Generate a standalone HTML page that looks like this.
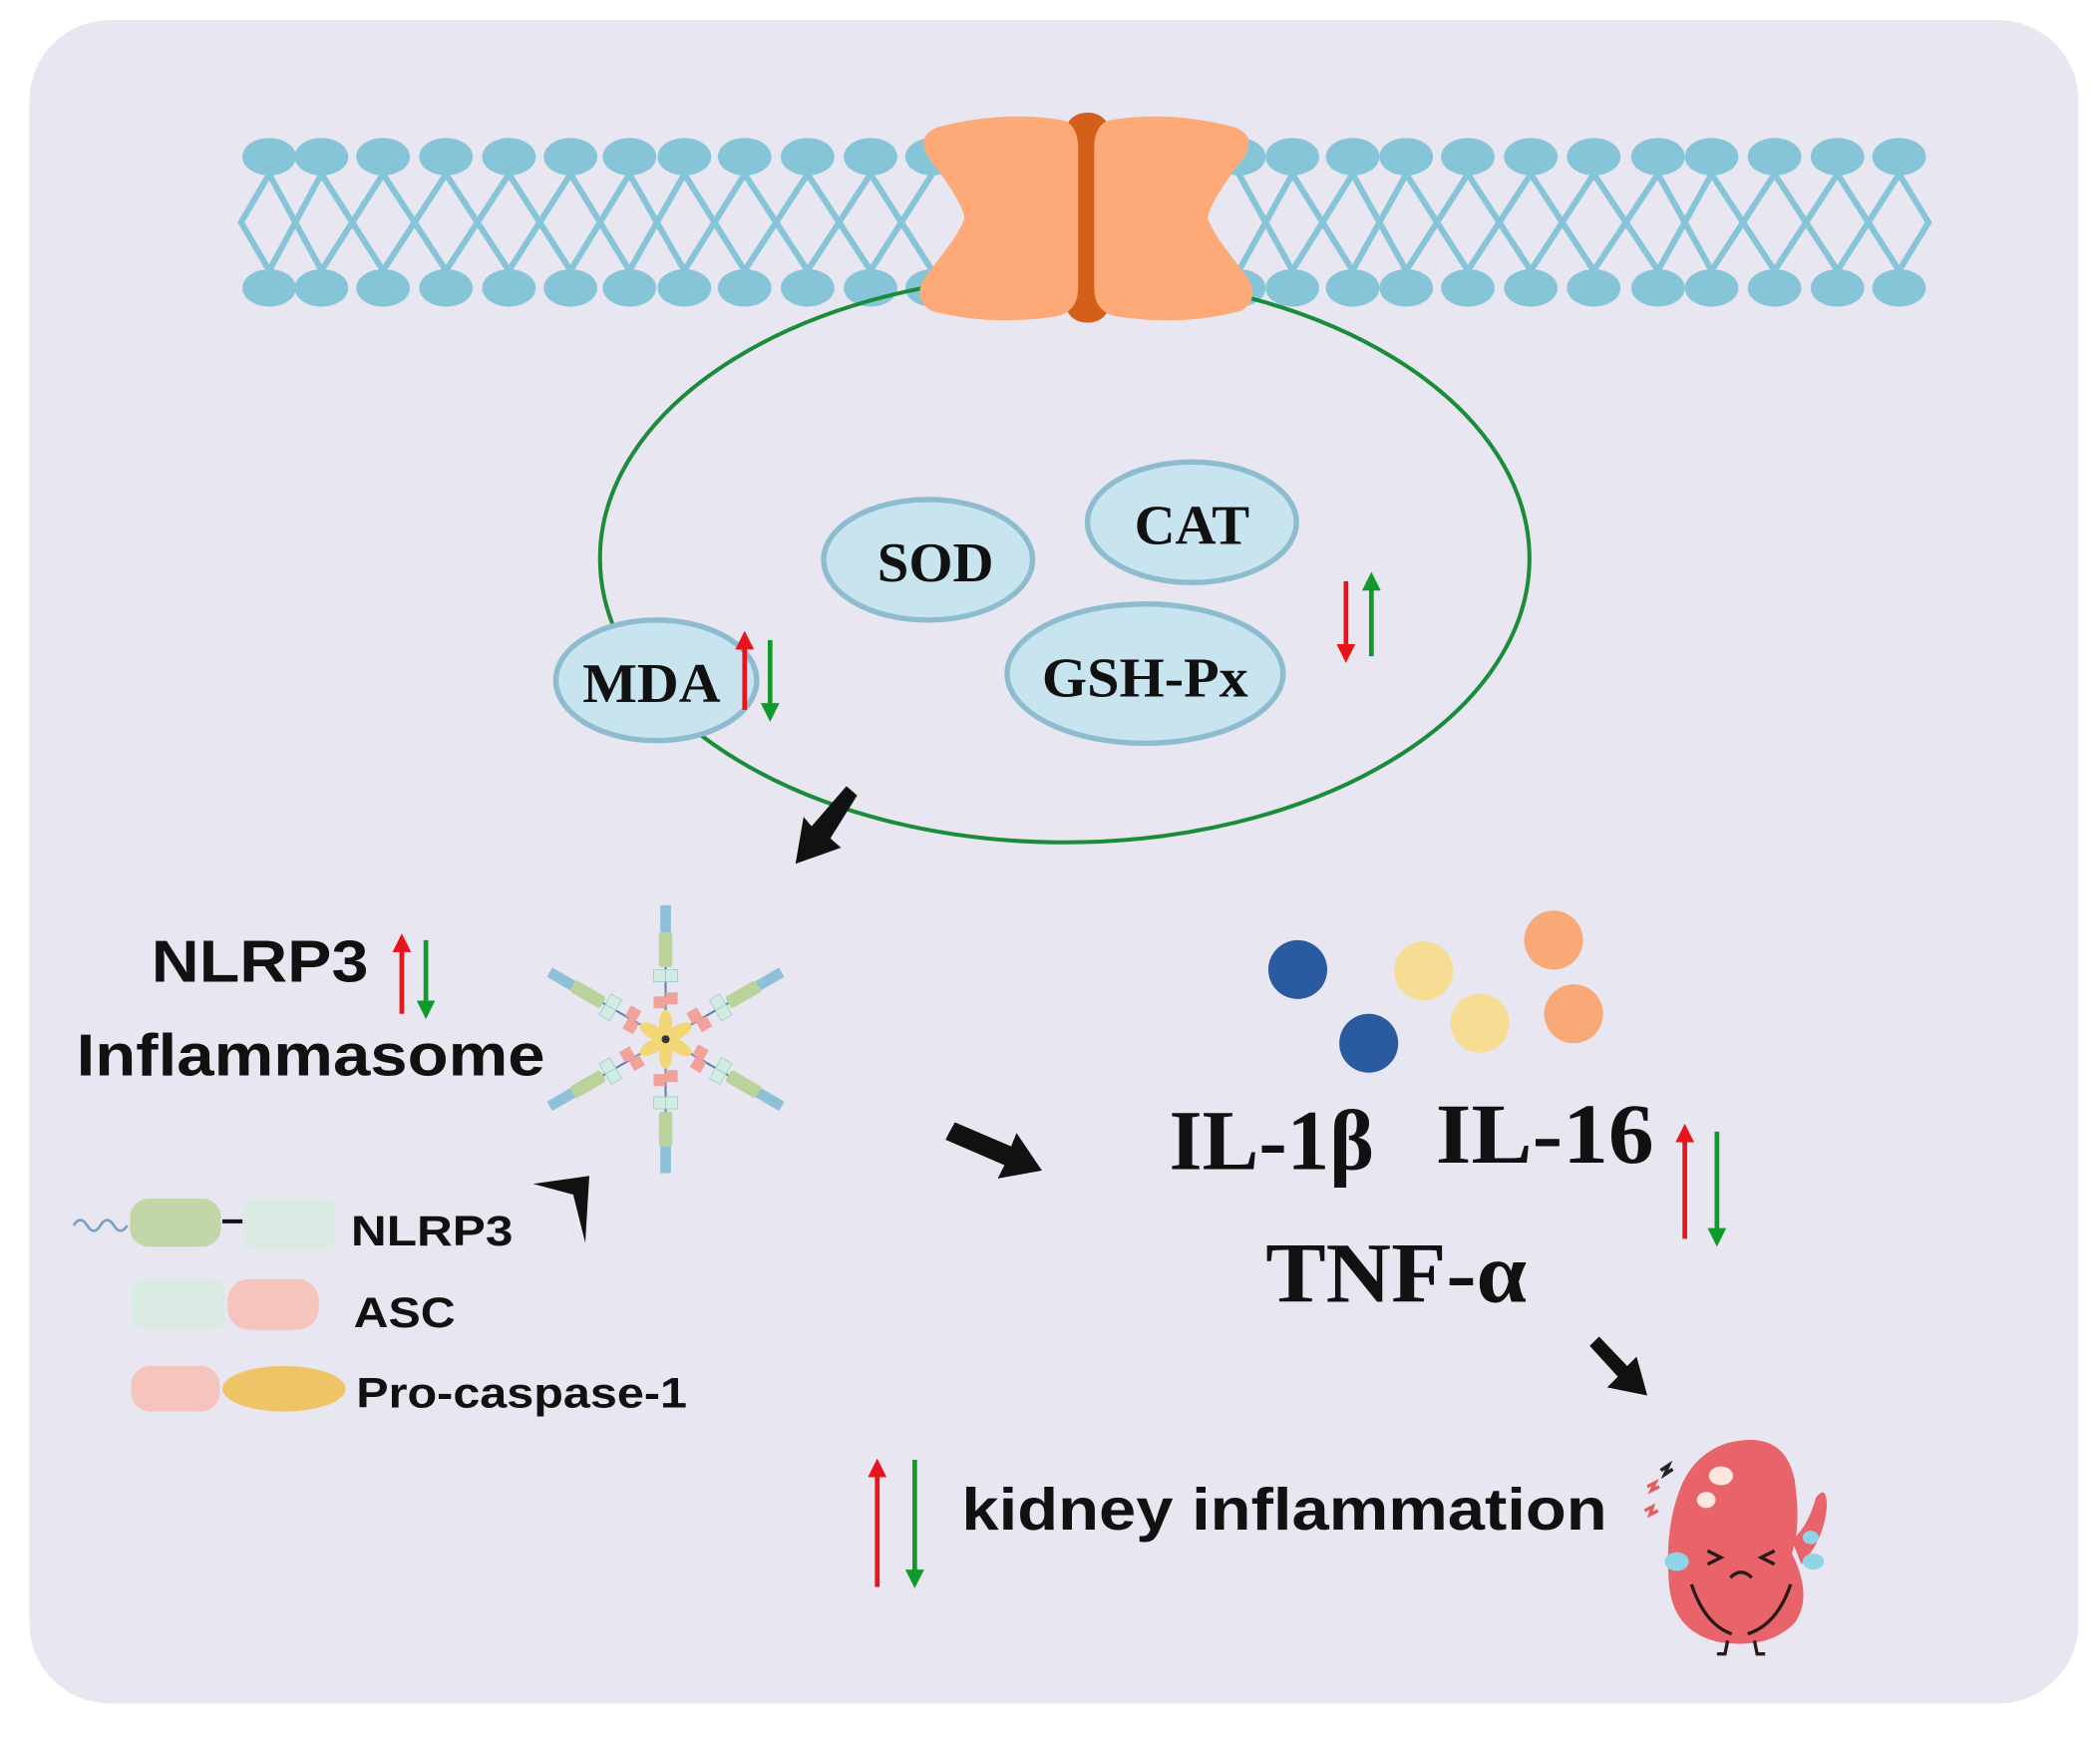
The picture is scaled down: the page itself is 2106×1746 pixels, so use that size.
<!DOCTYPE html>
<html><head><meta charset="utf-8"><style>
html,body{margin:0;padding:0;background:#fff;}
svg{display:block;}
.s{font-family:"Liberation Serif",serif;font-weight:bold;fill:#111;}
.a{font-family:"Liberation Sans",sans-serif;font-weight:bold;fill:#111;}
</style></head><body>
<svg width="2106" height="1746" viewBox="0 0 1568 1300" xmlns="http://www.w3.org/2000/svg">
<defs>
<marker id="ru" markerWidth="4" markerHeight="4" refX="2" refY="2" orient="auto" markerUnits="strokeWidth"><path d="M0,0 L4,2 L0,4 z" fill="#e8141c"/></marker>
<marker id="gd" markerWidth="4" markerHeight="4" refX="2" refY="2" orient="auto" markerUnits="strokeWidth"><path d="M0,0 L4,2 L0,4 z" fill="#0f9a2a"/></marker>
<g id="arm">
<line x1="0" y1="-20" x2="0" y2="-100" stroke="#5a7fb0" stroke-width="1.5"/>
<rect x="-9" y="-32" width="9" height="9" fill="#f1a39b"/><rect x="0" y="-35" width="9" height="9" fill="#f1a39b"/>
<rect x="-9" y="-52" width="9" height="9" fill="#d3ece2" stroke="#9cc" stroke-width=".6"/><rect x="0" y="-52" width="9" height="9" fill="#d3ece2" stroke="#9cc" stroke-width=".6"/>
<rect x="-5" y="-80" width="10" height="26" rx="2" fill="#b9d39b"/>
<rect x="-4" y="-100" width="8" height="20" fill="#8ec0d8"/>
<ellipse cx="0" cy="-11" rx="5" ry="11" fill="#f3d774"/>
</g>
</defs>
<rect x="0" y="0" width="1568" height="1300" fill="#fff"/>
<rect x="22" y="15" width="1530" height="1257" rx="60" fill="#e8e6f1"/>
<g stroke="#86c4d8" stroke-width="4.5" fill="none">
<path d="M201 130L240 202M240 130L201 202M240 130L286 202M286 130L240 202M286 130L333 202M333 130L286 202M333 130L380 202M380 130L333 202M380 130L426 202M426 130L380 202M426 130L470 202M470 130L426 202M470 130L511 202M511 130L470 202M511 130L556 202M556 130L511 202M556 130L603 202M603 130L556 202M603 130L650 202M650 130L603 202M650 130L696 202M696 130L650 202"/>
<path d="M925 130L965 202M965 130L925 202M965 130L1010 202M1010 130L965 202M1010 130L1050 202M1050 130L1010 202M1050 130L1096 202M1096 130L1050 202M1096 130L1143 202M1143 130L1096 202M1143 130L1190 202M1190 130L1143 202M1190 130L1238 202M1238 130L1190 202M1238 130L1278 202M1278 130L1238 202M1278 130L1325 202M1325 130L1278 202M1325 130L1372 202M1372 130L1325 202M1372 130L1418 202M1418 130L1372 202"/>
<path d="M201 130L180 166L201 202M1418 130L1440 166L1418 202"/>
</g>
<g fill="#86c4d8">
<g id="hl">
<ellipse cx="201" cy="117" rx="20" ry="14"/><ellipse cx="240" cy="117" rx="20" ry="14"/><ellipse cx="286" cy="117" rx="20" ry="14"/><ellipse cx="333" cy="117" rx="20" ry="14"/><ellipse cx="380" cy="117" rx="20" ry="14"/><ellipse cx="426" cy="117" rx="20" ry="14"/><ellipse cx="470" cy="117" rx="20" ry="14"/><ellipse cx="511" cy="117" rx="20" ry="14"/><ellipse cx="556" cy="117" rx="20" ry="14"/><ellipse cx="603" cy="117" rx="20" ry="14"/><ellipse cx="650" cy="117" rx="20" ry="14"/><ellipse cx="696" cy="117" rx="20" ry="14"/>
<ellipse cx="925" cy="117" rx="20" ry="14"/><ellipse cx="965" cy="117" rx="20" ry="14"/><ellipse cx="1010" cy="117" rx="20" ry="14"/><ellipse cx="1050" cy="117" rx="20" ry="14"/><ellipse cx="1096" cy="117" rx="20" ry="14"/><ellipse cx="1143" cy="117" rx="20" ry="14"/><ellipse cx="1190" cy="117" rx="20" ry="14"/><ellipse cx="1238" cy="117" rx="20" ry="14"/><ellipse cx="1278" cy="117" rx="20" ry="14"/><ellipse cx="1325" cy="117" rx="20" ry="14"/><ellipse cx="1372" cy="117" rx="20" ry="14"/><ellipse cx="1418" cy="117" rx="20" ry="14"/>
</g>
<use href="#hl" transform="translate(0,98)"/>
</g>
<ellipse cx="795" cy="417" rx="347" ry="212" fill="none" stroke="#1a8c3a" stroke-width="3"/>
<ellipse cx="812" cy="97" rx="16" ry="13" fill="#d35f1a"/><ellipse cx="812" cy="228" rx="16" ry="13" fill="#d35f1a"/>
<rect x="803" y="95" width="18" height="135" fill="#d35f1a"/>
<path d="M700 95 Q750 82 795 90 Q805 95 805 110 L805 215 Q805 232 790 236 Q740 244 695 232 Q680 222 692 205 Q720 170 720 162 Q718 150 695 120 Q682 102 700 95Z" fill="#fdaa78"/>
<path d="M922 95 Q872 82 827 90 Q817 95 817 110 L817 215 Q817 232 832 236 Q882 244 927 232 Q942 222 930 205 Q902 170 902 162 Q904 150 927 120 Q940 102 922 95Z" fill="#fdaa78"/>
<g fill="#c8e4ef" stroke="#8dbccf" stroke-width="4">
<ellipse cx="693" cy="418" rx="78" ry="45"/><ellipse cx="890" cy="390" rx="78" ry="45"/>
<ellipse cx="855" cy="503" rx="103" ry="52"/><ellipse cx="490" cy="508" rx="75" ry="45"/>
</g>
<text class="s" x="655" y="434" font-size="42" textLength="87" lengthAdjust="spacingAndGlyphs">SOD</text>
<text class="s" x="847" y="406" font-size="42" textLength="86" lengthAdjust="spacingAndGlyphs">CAT</text>
<text class="s" x="778" y="520" font-size="42" textLength="154" lengthAdjust="spacingAndGlyphs">GSH-Px</text>
<text class="s" x="435" y="524" font-size="42" textLength="103" lengthAdjust="spacingAndGlyphs">MDA</text>
<g stroke-width="3.5" fill="none">
<line x1="556" y1="530" x2="556" y2="478" stroke="#e8141c" marker-end="url(#ru)"/>
<line x1="575" y1="478" x2="575" y2="532" stroke="#0f9a2a" marker-end="url(#gd)"/>
<line x1="1005" y1="434" x2="1005" y2="488" stroke="#e8141c" marker-end="url(#ru)"/>
<line x1="1024" y1="490" x2="1024" y2="434" stroke="#0f9a2a" marker-end="url(#gd)"/>
<line x1="300" y1="757" x2="300" y2="704" stroke="#e8141c" marker-end="url(#ru)"/>
<line x1="318" y1="702" x2="318" y2="754" stroke="#0f9a2a" marker-end="url(#gd)"/>
<line x1="1258" y1="925" x2="1258" y2="846" stroke="#e8141c" marker-end="url(#ru)"/>
<line x1="1282" y1="845" x2="1282" y2="924" stroke="#0f9a2a" marker-end="url(#gd)"/>
<line x1="655" y1="1185" x2="655" y2="1096" stroke="#e8141c" marker-end="url(#ru)"/>
<line x1="683" y1="1090" x2="683" y2="1179" stroke="#0f9a2a" marker-end="url(#gd)"/>
</g>
<g fill="#111">
<path d="M640 594 L632 587 L606 617 L600 610 L594 645 L628 633 L620 626Z"/>
<path d="M708 847 L713 838 L755 856 L759 846 L778 874 L745 880 L750 870 L706 851Z"/>
<path d="M1187 1005 L1194 998 L1215 1020 L1222 1013 L1230 1042 L1200 1036 L1208 1028Z"/>
<path d="M398 884 L440 878 L437 928 L428 892Z"/>
</g>
<text class="a" x="113" y="733" font-size="44" textLength="162" lengthAdjust="spacingAndGlyphs">NLRP3</text>
<text class="a" x="57" y="803" font-size="44" textLength="350" lengthAdjust="spacingAndGlyphs">Inflammasome</text>
<g transform="translate(497,776)">
<use href="#arm"/><use href="#arm" transform="rotate(60)"/><use href="#arm" transform="rotate(120)"/><use href="#arm" transform="rotate(180)"/><use href="#arm" transform="rotate(240)"/><use href="#arm" transform="rotate(300)"/>
<circle r="3" fill="#333"/>
</g>
<path d="M55 915 q5 -8 10 0 t10 0 t10 0 t10 0" stroke="#7aa0c4" stroke-width="2" fill="none"/>
<rect x="97" y="895" width="68" height="36" rx="14" fill="#c3d6a8"/>
<line x1="166" y1="912" x2="181" y2="912" stroke="#111" stroke-width="3"/>
<rect x="182" y="895" width="68" height="38" rx="8" fill="#d9ebe3"/>
<text class="a" x="262" y="930" font-size="32" textLength="121" lengthAdjust="spacingAndGlyphs">NLRP3</text>
<rect x="98" y="955" width="70" height="38" rx="10" fill="#d9ebe3"/>
<rect x="170" y="955" width="68" height="38" rx="16" fill="#f4c4bd"/>
<text class="a" x="264" y="991" font-size="32" textLength="76" lengthAdjust="spacingAndGlyphs">ASC</text>
<rect x="98" y="1020" width="66" height="34" rx="14" fill="#f4c4bd"/>
<ellipse cx="212" cy="1037" rx="46" ry="17" fill="#efc466"/>
<text class="a" x="266" y="1051" font-size="32" textLength="247" lengthAdjust="spacingAndGlyphs">Pro-caspase-1</text>
<circle cx="969" cy="724" r="22" fill="#2a5aa0"/><circle cx="1022" cy="779" r="22" fill="#2a5aa0"/>
<circle cx="1063" cy="725" r="22" fill="#f7dc93"/><circle cx="1105" cy="764" r="22" fill="#f7dc93"/>
<circle cx="1160" cy="702" r="22" fill="#f9a878"/><circle cx="1175" cy="757" r="22" fill="#f9a878"/>
<text class="s" x="873" y="873" font-size="64" textLength="153" lengthAdjust="spacingAndGlyphs">IL-1β</text>
<text class="s" x="1072" y="868" font-size="64" textLength="163" lengthAdjust="spacingAndGlyphs">IL-16</text>
<text class="s" x="945" y="972" font-size="64" textLength="195" lengthAdjust="spacingAndGlyphs">TNF-α</text>
<text class="a" x="718" y="1142" font-size="44" textLength="482" lengthAdjust="spacingAndGlyphs">kidney inflammation</text>
<g>
<path d="M1338 1150 Q1350 1140 1356 1118 Q1364 1108 1364 1125 Q1362 1150 1345 1168Z" fill="#e8636a"/>
<path d="M1288 1078 Q1332 1066 1340 1105 Q1345 1140 1338 1160 Q1354 1192 1340 1212 Q1320 1232 1283 1226 Q1248 1218 1246 1180 Q1243 1138 1256 1108 Q1266 1086 1288 1078Z" fill="#e8636a"/>
<ellipse cx="1285" cy="1102" rx="9" ry="7" fill="#fde6dd"/><ellipse cx="1274" cy="1120" rx="7" ry="6" fill="#fde6dd"/>
<ellipse cx="1252" cy="1166" rx="9" ry="7" fill="#8fd3e6"/><ellipse cx="1354" cy="1166" rx="8" ry="6" fill="#8fd3e6"/><ellipse cx="1352" cy="1148" rx="6" ry="5" fill="#8fd3e6"/>
<g stroke="#2a1a1a" stroke-width="2.5" fill="none">
<path d="M1275 1158 l10 5 l-10 5M1325 1158 l-10 5 l10 5M1292 1178 q8 -8 16 0M1263 1183 q10 30 30 37M1337 1183 q-10 30 -32 37M1290 1225 l-2 10 l-6 0M1310 1225 l2 10 l6 0"/>
<path d="M1230 1110 l6 -3 l-3 6 l6 -3 M1228 1128 l6 -3 l-2 6 l6 -3" stroke="#e06060"/>
<path d="M1240 1098 l6 -4 l-3 7 l6 -4" stroke="#222"/>
</g>
</g>
</svg>
</body></html>
